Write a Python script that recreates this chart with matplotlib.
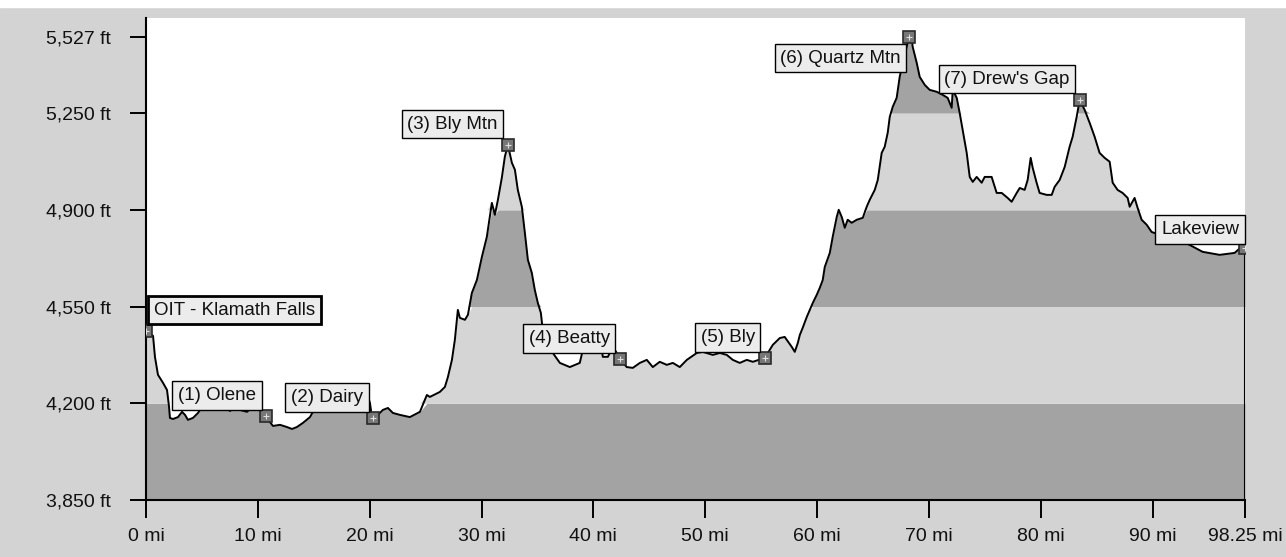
'''
elevation profile: Klamath Falls to Lakeview
'''
import numpy as np
import matplotlib
matplotlib.use('Agg')
import matplotlib.pyplot as plt
from matplotlib.patches import Rectangle

plt.rcParams['font.family'] = ['Liberation Sans', 'DejaVu Sans']

## route profile, miles / feet
miles = [0.00, 0.36, 0.63, 0.80, 1.07, 1.52, 1.88, 2.06, 2.14, 2.41,
         2.86, 3.22, 3.49, 3.75, 4.20, 4.65, 5.00, 5.72, 6.35, 6.88,
         7.51, 7.95, 8.40, 9.03, 9.74, 10.19, 10.46, 10.72, 11.08, 11.35,
         11.98, 12.60, 13.05, 13.49, 14.03, 14.66, 14.92, 15.55, 16.89, 18.23,
         19.39, 19.75, 20.02, 20.20, 20.29, 20.73, 21.18, 21.63, 22.07, 22.70,
         23.59, 24.49, 25.11, 25.38, 26.27, 26.72, 26.99, 27.35, 27.61, 27.88,
         28.06, 28.51, 28.78, 29.13, 29.58, 30.03, 30.47, 30.92, 31.19, 31.46,
         31.81, 32.08, 32.35, 32.71, 32.98, 33.24, 33.60, 33.87, 34.14, 34.49,
         34.76, 35.03, 35.30, 35.57, 35.84, 36.37, 37.00, 37.89, 38.78, 39.05,
         40.75, 40.84, 41.29, 41.73, 42.09, 42.36, 42.98, 43.52, 44.15, 44.77,
         45.31, 45.93, 46.56, 47.10, 47.72, 48.35, 49.24, 49.78, 50.67, 51.30,
         51.92, 52.46, 53.08, 53.71, 54.25, 55.32, 56.03, 56.66, 57.10, 57.73,
         58.00, 58.27, 58.45, 58.71, 59.07, 59.34, 59.61, 59.96, 60.23, 60.50,
         60.68, 61.13, 61.39, 61.75, 61.93, 62.20, 62.47, 62.73, 63.09, 63.54,
         64.08, 64.43, 64.70, 65.15, 65.42, 65.77, 66.04, 66.31, 66.49, 66.76,
         67.11, 67.38, 67.65, 68.01, 68.19, 68.45, 68.54, 68.90, 69.17, 69.62,
         70.06, 70.69, 71.22, 71.67, 72.03, 72.12, 72.48, 72.74, 73.01, 73.37,
         73.64, 73.91, 74.26, 74.71, 74.98, 75.60, 76.05, 76.50, 77.03, 77.39,
         77.84, 78.11, 78.55, 78.82, 79.09, 79.27, 79.62, 79.89, 80.52, 80.97,
         81.23, 81.68, 82.13, 82.57, 82.84, 83.20, 83.47, 83.91, 84.36, 84.81,
         85.25, 85.70, 86.15, 86.42, 86.86, 87.31, 87.76, 87.94, 88.38, 88.65,
         89.01, 89.46, 89.90, 91.06, 92.40, 93.30, 94.46, 95.98, 97.32, 97.94,
         98.25]
elev = [4462, 4451, 4444, 4368, 4303, 4274, 4248, 4187, 4147, 4143,
        4150, 4169, 4158, 4140, 4147, 4165, 4187, 4190, 4183, 4194,
        4172, 4190, 4176, 4169, 4194, 4187, 4165, 4154, 4132, 4118,
        4122, 4114, 4107, 4114, 4129, 4150, 4169, 4183, 4190, 4190,
        4194, 4237, 4201, 4150, 4147, 4158, 4176, 4183, 4165, 4158,
        4150, 4169, 4230, 4223, 4241, 4259, 4295, 4357, 4429, 4538,
        4509, 4502, 4520, 4599, 4646, 4730, 4802, 4925, 4882, 4936,
        5016, 5092, 5135, 5070, 5045, 4972, 4911, 4817, 4719, 4672,
        4610, 4563, 4527, 4429, 4386, 4382, 4346, 4331, 4346, 4393,
        4393, 4368, 4368, 4404, 4382, 4360, 4331, 4328, 4346, 4357,
        4331, 4350, 4339, 4346, 4331, 4357, 4382, 4386, 4375, 4382,
        4375, 4357, 4346, 4357, 4350, 4364, 4411, 4436, 4440, 4404,
        4386, 4418, 4447, 4473, 4512, 4538, 4563, 4592, 4617, 4646,
        4693, 4744, 4802, 4874, 4900, 4874, 4835, 4864, 4853, 4864,
        4871, 4911, 4936, 4972, 5008, 5106, 5128, 5179, 5236, 5273,
        5305, 5381, 5432, 5490, 5527, 5522, 5490, 5432, 5381, 5352,
        5334, 5327, 5316, 5305, 5269, 5334, 5305, 5251, 5189, 5106,
        5019, 5001, 5019, 4998, 5019, 5019, 4961, 4961, 4943, 4929,
        4961, 4979, 4972, 5008, 5088, 5052, 4998, 4961, 4954, 4954,
        4983, 5008, 5055, 5128, 5164, 5236, 5298, 5262, 5215, 5164,
        5106, 5088, 5074, 4998, 4972, 4961, 4943, 4911, 4943, 4907,
        4864, 4846, 4820, 4802, 4791, 4773, 4748, 4737, 4744, 4766,
        4762]

## waypoints
wpNames = ['OIT - Klamath Falls', '(1) Olene', '(2) Dairy', '(3) Bly Mtn', '(4) Beatty',
           '(5) Bly', '(6) Quartz Mtn', "(7) Drew's Gap", 'Lakeview']
wpMiles = [0.00, 10.72, 20.29, 32.35, 42.36, 55.32, 68.19, 83.47, 98.25]

## axes
yTicks = [3850, 4200, 4550, 4900, 5250, 5527]
xTicks = [0, 10, 20, 30, 40, 50, 60, 70, 80, 90, 98.25]
xTickLabels = ['0 mi', '10 mi', '20 mi', '30 mi', '40 mi', '50 mi', '60 mi',
               '70 mi', '80 mi', '90 mi', '98.25 mi']
bands = [3850, 4200, 4550, 4900, 5250, 5600]


def plotProfile(figName):
	x = np.array(miles)
	y = np.array(elev, dtype=float)

	fig = plt.figure(figsize=(12.86, 5.57), dpi=100, facecolor='#d3d3d3')
	fig.patches.append(Rectangle((0, 1 - 7/557.), 1, 7/557., transform=fig.transFigure,
		color='white', zorder=0))
	ax = fig.add_axes([146/1286., 57/557., 1099/1286., 482/557.])
	ax.set_facecolor('white')

	# alternating bands under the curve
	colors = ['#a3a3a3', '#d5d5d5']
	for i in range(len(bands) - 1):
		lo, hi = bands[i], bands[i+1]
		ax.fill_between(x, lo, np.clip(y, lo, hi), color=colors[i % 2], lw=0, zorder=1)

	ax.plot(x, y, color='black', lw=1.4, zorder=3)
	ax.vlines(x[-1], bands[0], y[-1], color='black', lw=1.5, zorder=3)

	# waypoint markers
	wpElev = np.interp(wpMiles, x, y)
	ax.plot(wpMiles, wpElev, 's', ms=9, mfc='#777777', mec='#2a2a2a', mew=1.2, zorder=4)
	ax.plot(wpMiles, wpElev, '+', ms=4.5, mec='#e0e0e0', mew=0.8, zorder=5)

	# label placement: dx, dy (pixels), ha, va
	place = {'OIT - Klamath Falls': (8, 12, 'left', 'bottom'),
		'(6) Quartz Mtn': (-8, -13, 'right', 'top'),
		'Lakeview': (-6, 10, 'right', 'bottom')}
	for name, mx, my in zip(wpNames, wpMiles, wpElev):
		dx, dy, ha, va = place.get(name, (-10, 12, 'right', 'bottom'))
		lw = 2 if name == 'OIT - Klamath Falls' else 1
		ax.annotate(name, (mx, my), xytext=(dx, dy), textcoords='offset pixels',
			ha=ha, va=va, fontsize=13.5, color='#111111', zorder=6,
			bbox=dict(boxstyle='square,pad=0.3', fc='#ececec', ec='black', lw=lw))

	ax.set_xlim(0, 98.25)
	ax.set_ylim(3850, 5594)
	ax.set_yticks(yTicks)
	ax.set_yticklabels(['{:,} ft'.format(v) for v in yTicks])
	ax.set_xticks(xTicks)
	ax.set_xticklabels(xTickLabels)
	ax.tick_params(axis='y', length=11.5, width=1.4, pad=14, labelsize=14, labelcolor='#111111')
	ax.tick_params(axis='x', length=13, width=1.4, pad=7, labelsize=14, labelcolor='#111111')
	for s in ['top', 'right']:
		ax.spines[s].set_visible(False)
	for s in ['left', 'bottom']:
		ax.spines[s].set_linewidth(1.5)

	plt.savefig(figName, dpi=100, facecolor=fig.get_facecolor())


## main function
def main():
	plotProfile('out.png')


if __name__ == '__main__':
	main()
